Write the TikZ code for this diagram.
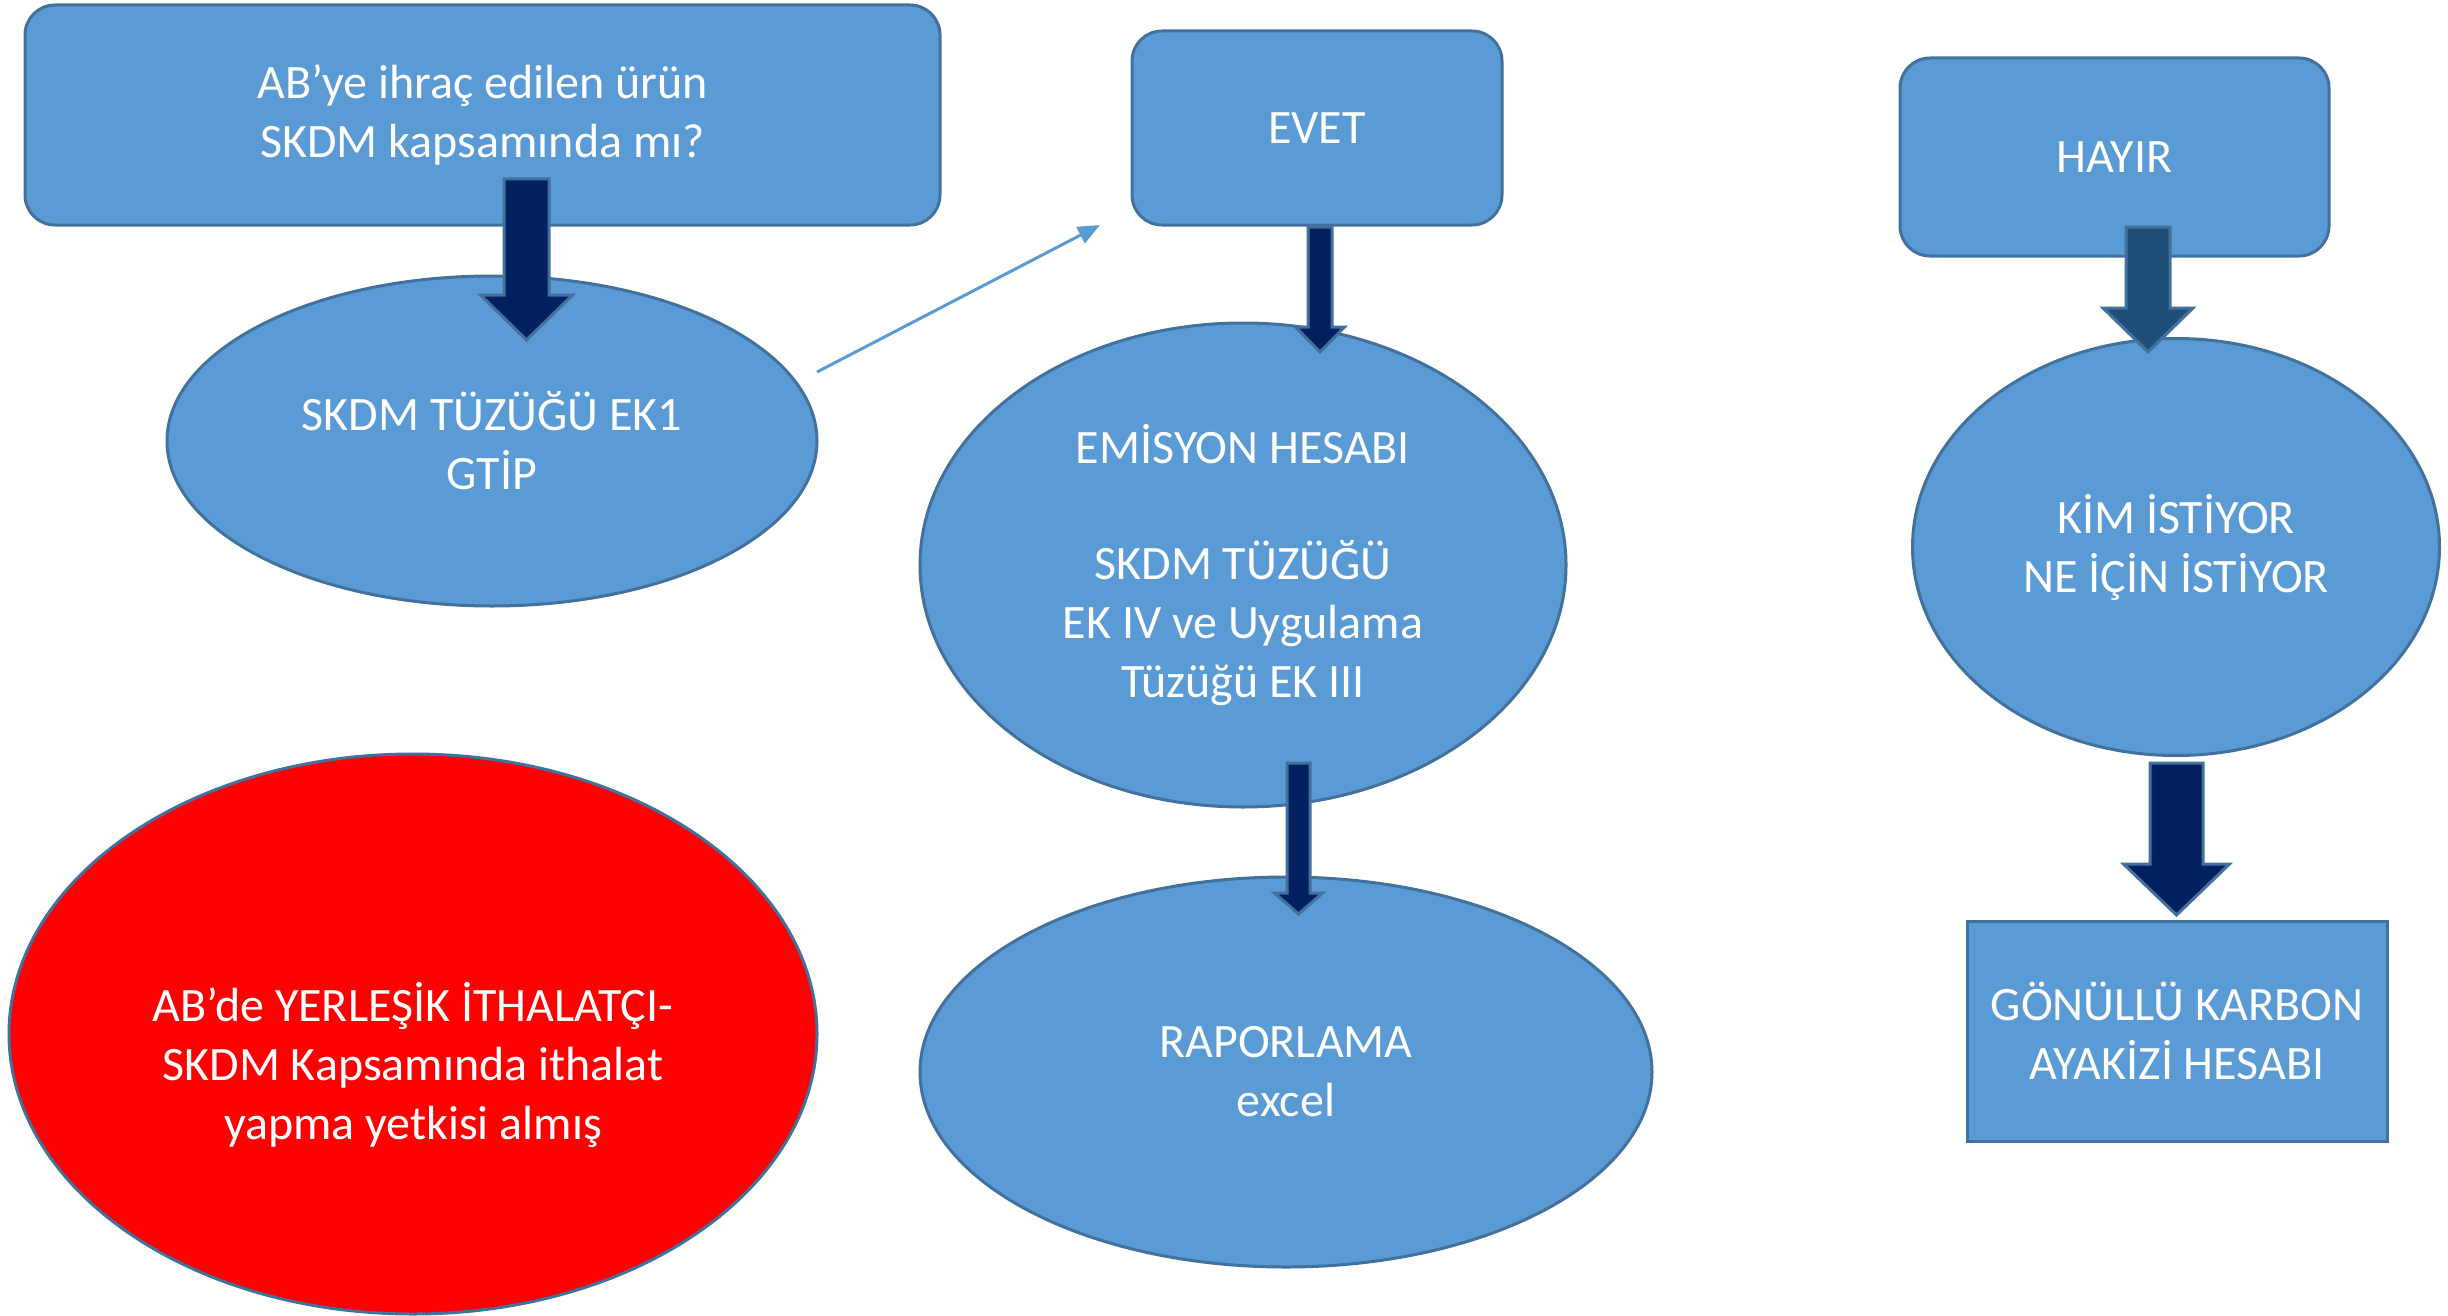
\documentclass[tikz,border=0pt]{standalone}
\usepackage{fontspec}
\setmainfont{Carlito}
\usetikzlibrary{shapes.geometric,arrows.meta}
\definecolor{fillblue}{HTML}{5B9BD5}
\definecolor{edgeblue}{HTML}{41719C}
\definecolor{navyA}{HTML}{002060}
\definecolor{navyB}{HTML}{1F4E79}
\definecolor{redfill}{HTML}{FF0000}
\newcommand\blockarr[7]{%
  \draw[draw=edgeblue,line width=3pt,fill=#7,line join=miter]
    (#1-#5,#2) -- (#1+#5,#2) -- (#1+#5,#3) -- (#1+#6,#3) -- (#1,#4)
    -- (#1-#6,#3) -- (#1-#5,#3) -- cycle;}
\begin{document}
\begin{tikzpicture}[x=1pt,y=-1pt,
  txt/.style={text=white,font=\fontsize{48}{59}\selectfont,align=center},
  shapebase/.style={txt,draw=edgeblue,fill=fillblue,line width=3pt,inner sep=0pt},
  rbox/.style={shapebase,rectangle,rounded corners=30pt},
  sbox/.style={shapebase,rectangle},
  oval/.style={shapebase,ellipse},
  thinarrow/.style={draw=fillblue,line width=3pt,-{Triangle[length=22pt,width=18pt]}}]
\useasboundingbox (0,0) rectangle (2448,1316);

\node[rbox,minimum width=915pt,minimum height=220pt] (q) at (482.5,115)
  {AB’ye ihraç edilen ürün\\SKDM kapsamında mı?};
\node[rbox,minimum width=370pt,minimum height=194pt] (evet) at (1317,128) {EVET};
\node[rbox,minimum width=429pt,minimum height=198pt] (hayir) at (2114.5,157) {HAYIR};
\node[sbox,minimum width=420pt,minimum height=220pt] (gonullu) at (2177,1031)
  {GÖNÜLLÜ KARBON\\AYAKİZİ HESABI};
\node[oval,minimum width=650pt,minimum height=330pt] (ek1) at (492,441)
  {SKDM TÜZÜĞÜ EK1\\GTİP};
\node[oval,minimum width=646pt,minimum height=484pt] (emisyon) at (1243,565)
  {EMİSYON HESABI\\[57pt]SKDM TÜZÜĞÜ\\EK IV ve Uygulama\\Tüzüğü EK III};
\node[oval,minimum width=732pt,minimum height=390pt] (rapor) at (1286,1072)
  {RAPORLAMA\\excel};
\node[oval,minimum width=527pt,minimum height=417pt] (kim) at (2176,547)
  {KİM İSTİYOR\\NE İÇİN İSTİYOR};
\node[oval,fill=redfill,minimum width=808pt,minimum height=560pt] (ithal) at (413,1034) {};
\node[txt] (ithaltxt) at ([yshift=-31pt]ithal.center)
  {AB’de YERLEŞİK İTHALATÇI-\\SKDM Kapsamında ithalat\\yapma yetkisi almış};

% block arrows
\blockarr{526.5}{179}{295}{340}{22.5}{46}{navyA}
\blockarr{1320}{227}{327}{352}{12}{24.5}{navyA}
\blockarr{1298.5}{763}{893}{914}{11.5}{24}{navyA}
\blockarr{2148}{227}{308}{352}{22}{45}{navyB}
\blockarr{2176.5}{763}{864}{915}{26.5}{53}{navyA}

% thin arrow
\coordinate (t1) at (817,372);
\coordinate (t2) at (1100,225);
\draw[thinarrow] (t1) -- (t2);
\end{tikzpicture}
\end{document}
